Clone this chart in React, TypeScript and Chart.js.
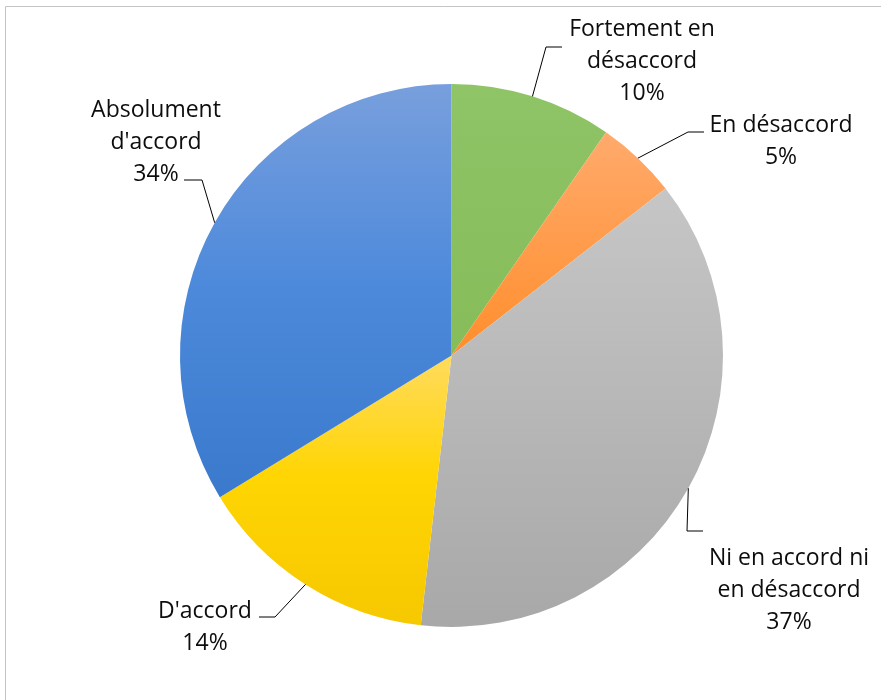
import React, { useEffect, useRef } from "react";
import { Chart, registerables } from "chart.js";

Chart.register(...registerables);

// ---- Data ----
const categories: string[][] = [
  ["Fortement en", "désaccord"],
  ["En désaccord"],
  ["Ni en accord ni", "en désaccord"],
  ["D'accord"],
  ["Absolument", "d'accord"],
];
// response counts (shown as percentages of the total)
const values: number[] = [8, 4, 31, 12, 28];

// ---- Styles ----
const gradientStops: [number, string][][] = [
  [[0, "#8FC467"], [1, "#86BC59"]],
  [[0, "#FFAA6C"], [1, "#FF8E2C"]],
  [[0, "#C6C6C6"], [1, "#A8A8A8"]],
  [[0, "#FFDB5E"], [0.45, "#FFD503"], [1, "#F6C800"]],
  [[0, "#789FDD"], [0.5, "#4C89DB"], [1, "#3A79CC"]],
];

// label layout: text centre x, first baseline y, elbow point, end point
const labelLayout = [
  { tx: 642, ty: 36, elbow: [546, 47], end: [562, 47] },
  { tx: 781, ty: 132, elbow: [688, 132], end: [704, 132] },
  { tx: 789, ty: 565, elbow: [687, 531], end: [703, 531] },
  { tx: 205, ty: 618, elbow: [275, 617], end: [259, 617] },
  { tx: 156, ty: 117, elbow: [202, 180], end: [184, 180] },
];
const LINE_H = 32;
const FONT = "23px 'Open Sans', sans-serif";

function sliceGradient(ctx: any) {
  const chart = ctx.chart;
  const i = ctx.dataIndex;
  const stops = gradientStops[i];
  const area = chart.chartArea;
  if (!area) return stops[0][1];
  const cx = (area.left + area.right) / 2;
  const cy = (area.top + area.bottom) / 2;
  const r = Math.min(area.right - area.left, area.bottom - area.top) / 2;
  const total = values.reduce((a, b) => a + b, 0);
  let cum = 0;
  for (let k = 0; k < i; k++) cum += values[k];
  const a0 = -Math.PI / 2 + (2 * Math.PI * cum) / total;
  const a1 = a0 + (2 * Math.PI * values[i]) / total;
  const ys = [cy, cy + r * Math.sin(a0), cy + r * Math.sin(a1)];
  for (const c of [-Math.PI / 2, Math.PI / 2, (3 * Math.PI) / 2]) {
    if (c >= a0 && c <= a1) ys.push(cy + r * Math.sin(c));
  }
  const top = Math.min(...ys);
  const bottom = Math.max(...ys);
  const g = chart.ctx.createLinearGradient(0, top, 0, bottom);
  stops.forEach(([o, c]) => g.addColorStop(o, c));
  return g;
}

const framePlugin = {
  id: "frame",
  beforeDraw(chart: any) {
    const c = chart.ctx;
    c.save();
    c.fillStyle = "#ffffff";
    c.fillRect(0, 0, chart.width, chart.height);
    c.strokeStyle = "#c4c4c4";
    c.lineWidth = 1;
    c.beginPath();
    c.moveTo(5.5, chart.height + 5);
    c.lineTo(5.5, 6.5);
    c.lineTo(chart.width + 5, 6.5);
    c.stroke();
    c.restore();
  },
};

const labelPlugin = {
  id: "pieLabels",
  afterDatasetsDraw(chart: any) {
    const c = chart.ctx;
    const meta = chart.getDatasetMeta(0);
    const total = values.reduce((a, b) => a + b, 0);
    c.save();
    meta.data.forEach((arc: any, i: number) => {
      const p = arc.getProps(["x", "y", "startAngle", "endAngle", "outerRadius"], true);
      const mid = (p.startAngle + p.endAngle) / 2;
      const ax = p.x + p.outerRadius * Math.cos(mid);
      const ay = p.y + p.outerRadius * Math.sin(mid);
      const L = labelLayout[i];
      c.strokeStyle = "#000000";
      c.lineWidth = 1;
      c.beginPath();
      c.moveTo(ax, ay);
      c.lineTo(L.elbow[0], L.elbow[1]);
      c.lineTo(L.end[0], L.end[1]);
      c.stroke();
      const lines = [...categories[i], Math.round((values[i] / total) * 100) + "%"];
      c.fillStyle = "#0d0d0d";
      c.font = FONT;
      c.textAlign = "center";
      c.textBaseline = "alphabetic";
      lines.forEach((t, k) => c.fillText(t, L.tx, L.ty + k * LINE_H));
    });
    c.restore();
  },
};

export default function App() {
  const ref = useRef<HTMLCanvasElement>(null);
  useEffect(() => {
    document.body.style.margin = "0";
    document.body.style.overflow = "hidden";
    const chart = new Chart(ref.current!, {
      type: "pie",
      data: {
        labels: categories,
        datasets: [
          {
            data: values,
            backgroundColor: sliceGradient as any,
            borderWidth: 0,
            hoverOffset: 0,
            offset: 0,
          },
        ],
      },
      options: {
        responsive: false,
        animation: false,
        events: [],
        layout: { padding: { left: 180, top: 84, right: 158, bottom: 73 } },
        plugins: {
          legend: { display: false },
          tooltip: { enabled: false },
          title: { display: false },
        },
      },
      plugins: [framePlugin, labelPlugin],
    });
    return () => chart.destroy();
  }, []);
  return (
    <div style={{ width: 881, height: 700 }}>
      <canvas ref={ref} width={881} height={700} style={{ display: "block" }} />
    </div>
  );
}
